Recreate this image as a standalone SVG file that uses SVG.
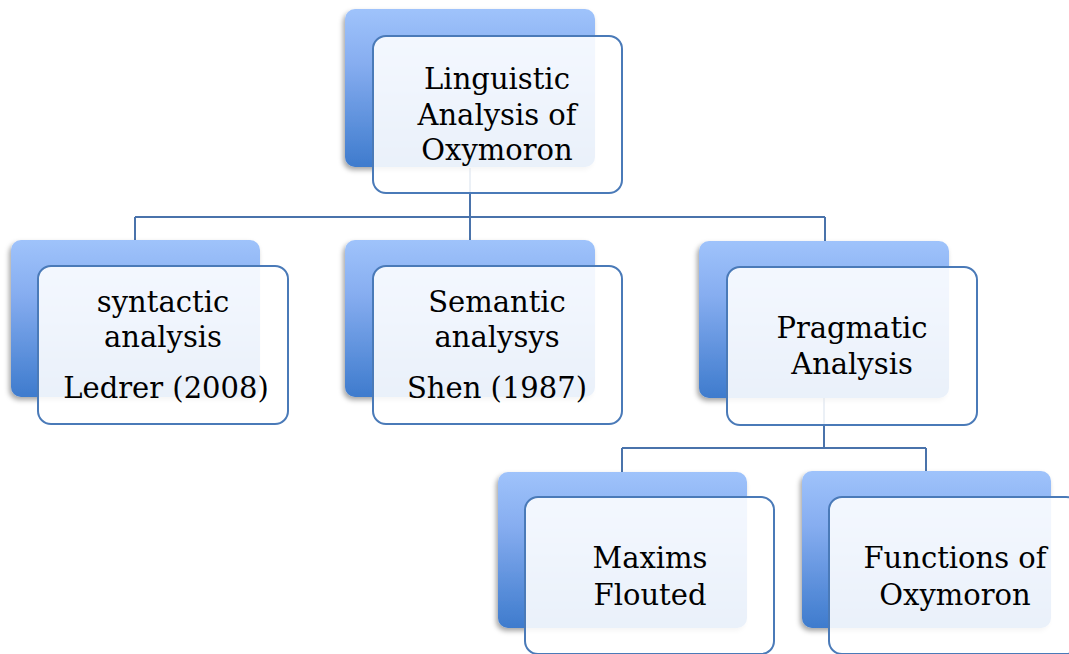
<svg xmlns="http://www.w3.org/2000/svg" width="1069" height="654" viewBox="0 0 1069 654">
<defs>
<linearGradient id="bg" x1="0" y1="0" x2="0" y2="1">
<stop offset="0" stop-color="#9fc3fb"/>
<stop offset="0.35" stop-color="#86adf0"/>
<stop offset="1" stop-color="#3e7bcd"/>
</linearGradient>
<filter id="sh" x="-10%" y="-10%" width="125%" height="125%">
<feDropShadow dx="-2" dy="3" stdDeviation="2.5" flood-color="#000" flood-opacity="0.35"/>
</filter>
</defs>
<style>
.back{fill:url(#bg);filter:url(#sh)}
.front{fill:#ffffff;fill-opacity:0.89;stroke:#4a7ab8;stroke-width:2}
.conn{fill:none;stroke:#4a73ab;stroke-width:2}
text{font-family:"DejaVu Serif","Liberation Serif",serif;font-size:29px;fill:#000;text-anchor:middle}
</style>
<rect width="1069" height="654" fill="#fff"/>
<g id="connectors" class="conn">
<path d="M470,168 V217 M135,217 H825 M135,217 V240 M470,217 V240 M825,217 V241"/>
<path d="M824,398 V448 M622,448 H926 M622,448 V472 M926,448 V471"/>
</g>
<g id="root">
<rect class="back" x="345" y="9" width="250" height="158" rx="10"/>
<rect class="front" x="373" y="36" width="249" height="157" rx="13"/>
<text x="497" y="89">Linguistic</text>
<text x="497" y="125">Analysis of</text>
<text x="497" y="160">Oxymoron</text>
</g>
<g id="syntactic">
<rect class="back" x="11" y="240" width="249" height="157" rx="10"/>
<rect class="front" x="38" y="266" width="250" height="158" rx="13"/>
<text x="163" y="312">syntactic</text>
<text x="163" y="347">analysis</text>
<text x="166" y="398">Ledrer (2008)</text>
</g>
<g id="semantic">
<rect class="back" x="345" y="240" width="250" height="157" rx="10"/>
<rect class="front" x="373" y="266" width="249" height="158" rx="13"/>
<text x="497" y="312">Semantic</text>
<text x="497" y="347">analysys</text>
<text x="497" y="398">Shen (1987)</text>
</g>
<g id="pragmatic">
<rect class="back" x="699" y="241" width="250" height="157" rx="10"/>
<rect class="front" x="727" y="267" width="250" height="158" rx="13"/>
<text x="852" y="338">Pragmatic</text>
<text x="852" y="374">Analysis</text>
</g>
<g id="maxims">
<rect class="back" x="498" y="472" width="249" height="156" rx="10"/>
<rect class="front" x="525" y="497" width="249" height="157" rx="13"/>
<text x="650" y="568">Maxims</text>
<text x="650" y="605">Flouted</text>
</g>
<g id="functions">
<rect class="back" x="802" y="471" width="249" height="157" rx="10"/>
<rect class="front" x="829" y="497" width="250" height="157" rx="13"/>
<text x="955" y="568">Functions of</text>
<text x="955" y="605">Oxymoron</text>
</g>
</svg>
